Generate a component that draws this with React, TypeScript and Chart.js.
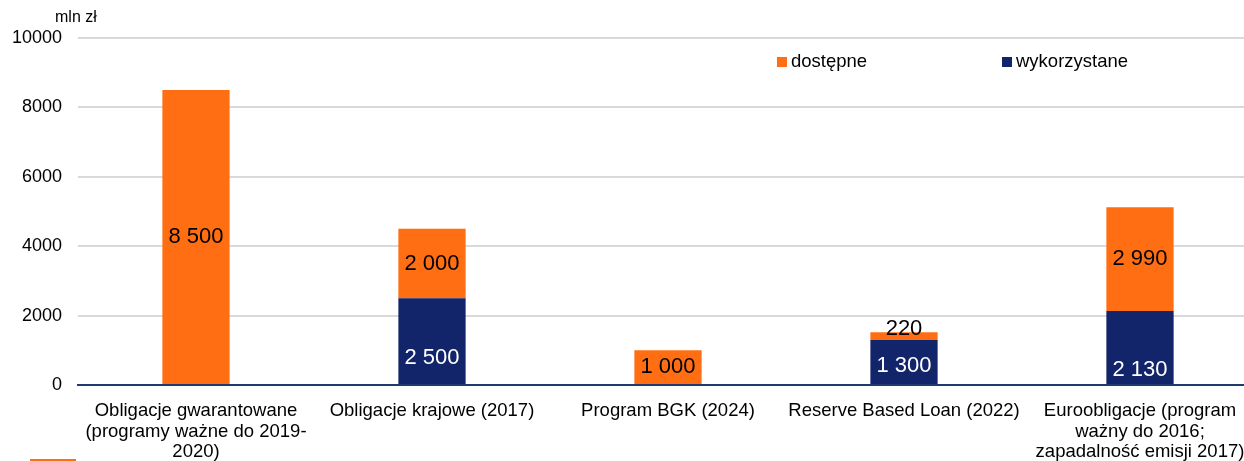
import React, { useEffect, useRef } from "react";
import { Chart, registerables } from "chart.js";

Chart.register(...registerables);

const categories: string[][] = [
  ["Obligacje gwarantowane", "(programy ważne do 2019-", "2020)"],
  ["Obligacje krajowe (2017)"],
  ["Program BGK (2024)"],
  ["Reserve Based Loan (2022)"],
  ["Euroobligacje (program", "ważny do 2016;", "zapadalność emisji 2017)"],
];
const wykorzystane: number[] = [0, 2500, 0, 1300, 2130];
const dostepne: number[] = [8500, 2000, 1000, 220, 2990];
const yTicks: number[] = [0, 2000, 4000, 6000, 8000, 10000];
const unitLabel = "mln zł";

const ORANGE = "#FF6E12";
const NAVY = "#12246A";
const FONT = "'Liberation Sans', Arial, sans-serif";

const fmt = (v: number) => String(v).replace(/\B(?=(\d{3})+(?!\d))/g, " ");

// vertical label nudges (styling only)
const navyLabelShift: number[] = [0, 17, 0, 4, 22];

const labelsPlugin = {
  id: "customLabels",
  afterDatasetsDraw(chart: any) {
    const ctx = chart.ctx;
    ctx.save();
    ctx.font = `22px ${FONT}`;
    ctx.textAlign = "center";
    ctx.textBaseline = "middle";
    chart.data.datasets.forEach((ds: any, di: number) => {
      const meta = chart.getDatasetMeta(di);
      meta.data.forEach((el: any, i: number) => {
        const v = ds.data[i];
        if (!v) return;
        const top = el.y;
        const base = el.base;
        let y = (top + base) / 2;
        if (ds.label === "wykorzystane") {
          ctx.fillStyle = "#FFFFFF";
          y += navyLabelShift[i] || 0;
        } else {
          ctx.fillStyle = "#000000";
          if (Math.abs(base - top) < 15) y = top - 3;
        }
        ctx.fillText(fmt(v), el.x, y);
      });
    });
    ctx.restore();
  },
  afterDraw(chart: any) {
    const ctx = chart.ctx;
    ctx.save();
    ctx.font = `16px ${FONT}`;
    ctx.fillStyle = "#000";
    ctx.textAlign = "left";
    ctx.textBaseline = "middle";
    ctx.fillText(unitLabel, 55, 18);
    const items = [
      { label: "dostępne", color: ORANGE, x: 777 },
      { label: "wykorzystane", color: NAVY, x: 1002 },
    ];
    ctx.font = `18.5px ${FONT}`;
    items.forEach((it) => {
      ctx.fillStyle = it.color;
      ctx.fillRect(it.x, 57, 10, 10);
      ctx.fillStyle = "#000";
      ctx.fillText(it.label, it.x + 14, 62);
    });
    ctx.restore();
  },
};

export default function App() {
  const ref = useRef<HTMLCanvasElement | null>(null);

  useEffect(() => {
    if (!ref.current) return;
    const chart = new Chart(ref.current, {
      type: "bar",
      data: {
        labels: categories,
        datasets: [
          {
            label: "wykorzystane",
            data: wykorzystane,
            backgroundColor: NAVY,
            categoryPercentage: 1,
            barPercentage: 0.285,
          },
          {
            label: "dostępne",
            data: dostepne,
            backgroundColor: ORANGE,
            categoryPercentage: 1,
            barPercentage: 0.285,
          },
        ],
      },
      options: {
        responsive: true,
        maintainAspectRatio: false,
        animation: false,
        layout: { padding: { top: 38, right: 0, left: 0, bottom: 0 } },
        plugins: {
          legend: { display: false },
          tooltip: { enabled: false },
          title: { display: false },
        },
        scales: {
          x: {
            stacked: true,
            grid: { display: false, drawTicks: false },
            border: { display: true, color: "#1F3A6E", width: 2 },
            ticks: {
              color: "#000",
              font: { family: FONT, size: 18.5, lineHeight: 1.1 },
              padding: 16,
              maxRotation: 0,
              autoSkip: false,
            },
            afterFit: (s: any) => {
              s.height = 76;
              s.paddingLeft = 0;
              s.paddingRight = 0;
            },
          },
          y: {
            stacked: true,
            min: 0,
            max: 10000,
            afterBuildTicks: (s: any) => {
              s.ticks = yTicks.map((v) => ({ value: v }));
            },
            grid: { color: "#D9D9D9", lineWidth: 2, drawTicks: false },
            border: { display: false },
            ticks: {
              color: "#000",
              font: { family: FONT, size: 18 },
              padding: 16,
              callback: (v: any) => String(v),
            },
            afterFit: (s: any) => {
              s.width = 78;
            },
          },
        },
      },
      plugins: [labelsPlugin],
    });
    return () => chart.destroy();
  }, []);

  return (
    <div
      style={{
        position: "absolute",
        left: 0,
        top: 0,
        width: 1244,
        height: 461,
        background: "#fff",
        overflow: "hidden",
      }}
    >
      <div style={{ position: "absolute", left: 0, top: 0, width: 1258, height: 461 }}>
        <canvas ref={ref} />
      </div>
      <div
        style={{
          position: "absolute",
          left: 30,
          top: 459,
          width: 46,
          height: 2,
          background: ORANGE,
        }}
      />
    </div>
  );
}
